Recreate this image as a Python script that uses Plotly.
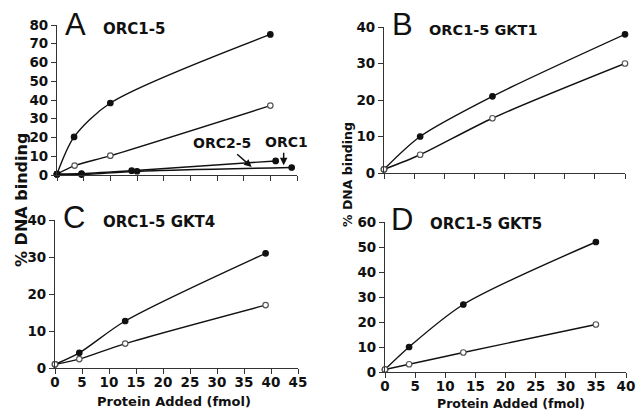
import plotly.graph_objects as go

# Panel A: ORC1-5
a_x_filled = [0, 3.2, 10, 40]
a_y_filled = [0.5, 20.3, 38.4, 75]
a_x_open = [0, 3.3, 10, 40]
a_y_open = [0.5, 5, 10.3, 37]
a_x_orc25 = [0, 4.6, 14, 41]
a_y_orc25 = [0.5, 0.8, 2.3, 7.5]
a_x_orc1 = [0, 4.6, 15, 44]
a_y_orc1 = [0.3, 0.2, 2.0, 4.0]

# Panel B: ORC1-5 GKT1
b_x = [0, 6, 18, 40]
b_y_filled = [1, 10, 21, 38]
b_y_open = [1, 5, 15, 30]

# Panel C: ORC1-5 GKT4
c_x = [0, 4.5, 13, 39]
c_y_filled = [1, 4.1, 12.7, 31]
c_y_open = [1, 2.4, 6.6, 17]

# Panel D: ORC1-5 GKT5
d_x = [0, 4, 13, 35]
d_y_filled = [1, 10, 27, 52]
d_y_open = [1, 3.1, 7.8, 19]

W, H = 638, 410
BOLD = "DejaVu Sans, Arial, sans-serif"
THIN = "Liberation Sans, Arial, sans-serif"

fig = go.Figure()

def px_x(p):
    return p / W

def px_y(p):
    return 1 - p / H

def add_series(xs, ys, xa, ya, filled=True):
    fig.add_trace(go.Scatter(
        x=xs, y=ys, xaxis=xa, yaxis=ya, mode="lines+markers",
        line=dict(color="#111111", width=1.4, shape="spline", smoothing=0.8),
        marker=dict(size=5.5,
                    color="#111111" if filled else "white",
                    line=dict(color="#111111" if filled else "#555555", width=1.2),
                    symbol="circle"),
        cliponaxis=False, showlegend=False, hoverinfo="skip"))

add_series(a_x_filled, a_y_filled, "x", "y", True)
add_series(a_x_open, a_y_open, "x", "y", False)
add_series(a_x_orc25, a_y_orc25, "x", "y", True)
add_series(a_x_orc1, a_y_orc1, "x", "y", True)
add_series(b_x, b_y_filled, "x2", "y2", True)
add_series(b_x, b_y_open, "x2", "y2", False)
add_series(c_x, c_y_filled, "x3", "y3", True)
add_series(c_x, c_y_open, "x3", "y3", False)
add_series(d_x, d_y_filled, "x4", "y4", True)
add_series(d_x, d_y_open, "x4", "y4", False)

tickfont = dict(family=BOLD, size=13.5, color="#111111", weight="bold")

def xaxis(domain, rng, dtick, labels, anchor):
    return dict(domain=domain, range=rng, dtick=dtick, tick0=0, showgrid=False,
                zeroline=False, showline=True, linecolor="#333333", linewidth=1.2,
                ticks="outside", ticklen=5, tickcolor="#333333", tickwidth=1.2,
                showticklabels=labels, tickfont=tickfont, anchor=anchor,
                fixedrange=True, automargin=False, ticklabelstandoff=-3)

def yaxis(domain, rng, dtick, anchor):
    return dict(domain=domain, range=rng, dtick=dtick, tick0=0, showgrid=False,
                zeroline=False, showline=True, linecolor="#333333", linewidth=1.2,
                ticks="outside", ticklen=5, tickcolor="#333333", tickwidth=1.2,
                tickfont=tickfont, anchor=anchor, fixedrange=True, automargin=False)

fig.update_layout(
    template="none",
    width=W, height=H, margin=dict(l=0, r=0, t=0, b=0, pad=0),
    paper_bgcolor="white", plot_bgcolor="white",
    xaxis=xaxis([px_x(57), px_x(297)], [0, 45], 5, False, "y"),
    yaxis=yaxis([px_y(175), px_y(25)], [0, 80], 10, "x"),
    xaxis2=xaxis([px_x(384), px_x(625)], [0, 40], 5, False, "y2"),
    yaxis2=yaxis([px_y(173), px_y(27)], [0, 40], 10, "x2"),
    xaxis3=xaxis([px_x(55), px_x(298)], [0, 45], 5, True, "y3"),
    yaxis3=yaxis([px_y(368), px_y(220)], [0, 40], 10, "x3"),
    xaxis4=xaxis([px_x(385), px_x(626)], [0, 40], 5, True, "y4"),
    yaxis4=yaxis([px_y(372), px_y(222)], [0, 60], 10, "x4"),
)

ann = []
def text(x, y, s, size, family=BOLD, bold=True, angle=0, xanchor="center"):
    ann.append(dict(x=px_x(x), y=px_y(y), xref="paper", yref="paper", text=s,
                    showarrow=False, textangle=angle, xanchor=xanchor, yanchor="middle",
                    font=dict(family=family, size=size, color="#111111",
                              weight="bold" if bold else "normal")))

# Panel letters
text(63, 24, "A", 31, family=THIN, bold=False, xanchor="left")
text(390, 24, "B", 31, family=THIN, bold=False, xanchor="left")
text(61, 217, "C", 31, family=THIN, bold=False, xanchor="left")
text(389, 219, "D", 31, family=THIN, bold=False, xanchor="left")
# Panel titles
text(101, 29, "ORC1-5", 15, xanchor="left")
text(427, 30, "ORC1-5 GKT1", 14.5, xanchor="left")
text(101, 222, "ORC1-5 GKT4", 15, xanchor="left")
text(428, 224, "ORC1-5 GKT5", 15, xanchor="left")
# Axis titles
text(21, 200, "% DNA binding", 16, angle=-90)
text(348, 175, "% DNA binding", 12.5, angle=-90)
text(174, 401, "Protein Added (fmol)", 13)
text(511, 403, "Protein Added (fmol)", 12.5)
# Series label arrows
ann.append(dict(x=36.5, y=4.3, xref="x", yref="y", ax=-16, ay=-14,
                showarrow=True, arrowhead=2, arrowsize=1, arrowwidth=1.5,
                arrowcolor="#111111", text=""))
ann.append(dict(x=42.5, y=5.2, xref="x", yref="y", ax=0, ay=-14,
                showarrow=True, arrowhead=2, arrowsize=1, arrowwidth=1.5,
                arrowcolor="#111111", text=""))
text(222, 143, "ORC2-5", 14)
text(286, 142, "ORC1", 14)

fig.update_layout(annotations=ann)
fig.write_html("out.html", config={"displayModeBar": False},
               post_script="document.body.style.margin='0';document.body.style.overflow='hidden';")
